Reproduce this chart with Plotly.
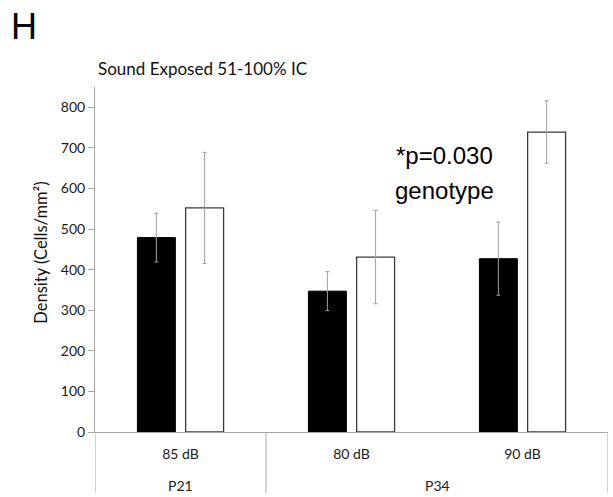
import plotly.graph_objects as go

# Sound-exposed cell density, 51-100% IC
levels = ["85 dB", "80 dB", "90 dB"]
ages = ["P21", "P34"]
age_spans = [(0, 0), (1, 2)]          # which levels each age covers
group_a = [479, 347, 427]             # filled bars
group_a_err = [60, 48, 90]
group_b = [552, 431, 739]             # open bars
group_b_err = [137, 115, 77]
y_ticks = [0, 100, 200, 300, 400, 500, 600, 700, 800]

x_pos = list(range(len(levels)))
bar_w = 0.222
axis_grey = "#a6a6a6"
err_grey = "#a0a0a0"
font_main = "Lato, 'Open Sans', sans-serif"
font_arial = "'Liberation Sans', Arial, sans-serif"

fig = go.Figure()
fig.add_trace(go.Bar(
    x=x_pos, y=group_a, width=bar_w, offset=-0.252,
    marker=dict(color="black", line=dict(color="black", width=1)),
    error_y=dict(type="data", array=group_a_err, color=err_grey,
                 thickness=1, width=2),
    showlegend=False,
))
fig.add_trace(go.Bar(
    x=x_pos, y=group_b, width=bar_w, offset=0.03,
    marker=dict(color="white", line=dict(color="#3a3a3a", width=1.3)),
    error_y=dict(type="data", array=group_b_err, color=err_grey,
                 thickness=1, width=2),
    showlegend=False,
))

# category box lines below the axis
shapes = []
for xv in [-0.5, 0.5, 2.5]:
    shapes.append(dict(type="line", xref="x", yref="paper", x0=xv, x1=xv,
                       y0=0, y1=-0.177, line=dict(color=axis_grey, width=1)))

annotations = []
# outer category labels
for name, (i0, i1) in zip(ages, age_spans):
    annotations.append(dict(text=name, xref="x", yref="paper",
                            x=(i0 + i1) / 2, y=-0.154, showarrow=False,
                            xanchor="center", yanchor="middle",
                            font=dict(family=font_main, size=14, color="#1a1a1a")))
annotations += [
    dict(text="H", xref="paper", yref="paper", x=-0.168, y=1.174,
         xanchor="left", yanchor="middle", showarrow=False,
         font=dict(family=font_arial, size=36, color="black")),
    dict(text="Sound Exposed 51-100% IC", xref="paper", yref="paper",
         x=0.002, y=1.055, xanchor="left", yanchor="middle", showarrow=False,
         font=dict(family=font_main, size=17, color="#111")),
    dict(text="Density (Cells/mm²)", xref="paper", yref="paper",
         x=-0.107, y=0.52, xanchor="center", yanchor="middle",
         textangle=-90, showarrow=False,
         font=dict(family=font_main, size=16.5, color="#111")),
    dict(text="*p=0.030", xref="x", yref="y", x=1.541, y=682,
         xanchor="center", yanchor="middle", showarrow=False,
         font=dict(family=font_arial, size=24, color="black")),
    dict(text="genotype", xref="x", yref="y", x=1.541, y=596,
         xanchor="center", yanchor="middle", showarrow=False,
         font=dict(family=font_arial, size=24, color="black")),
]

fig.update_layout(
    width=613, height=497,
    margin=dict(l=95, r=5, t=87, b=65),
    paper_bgcolor="white", plot_bgcolor="white",
    barmode="overlay",
    shapes=shapes, annotations=annotations,
    xaxis=dict(range=[-0.5, 2.5], tickvals=x_pos, ticktext=levels,
               showline=True, linecolor=axis_grey, linewidth=1,
               showgrid=False, zeroline=False, ticks="",
               ticklabelstandoff=9,
               tickfont=dict(family=font_main, size=14, color="#1a1a1a")),
    yaxis=dict(range=[0, 850], tickvals=y_ticks,
               showline=True, linecolor=axis_grey, linewidth=1,
               showgrid=False, zeroline=False,
               ticks="outside", ticklen=6, tickcolor=axis_grey,
               tickfont=dict(family=font_main, size=14, color="#1a1a1a")),
)

fig.write_html("out.html")
